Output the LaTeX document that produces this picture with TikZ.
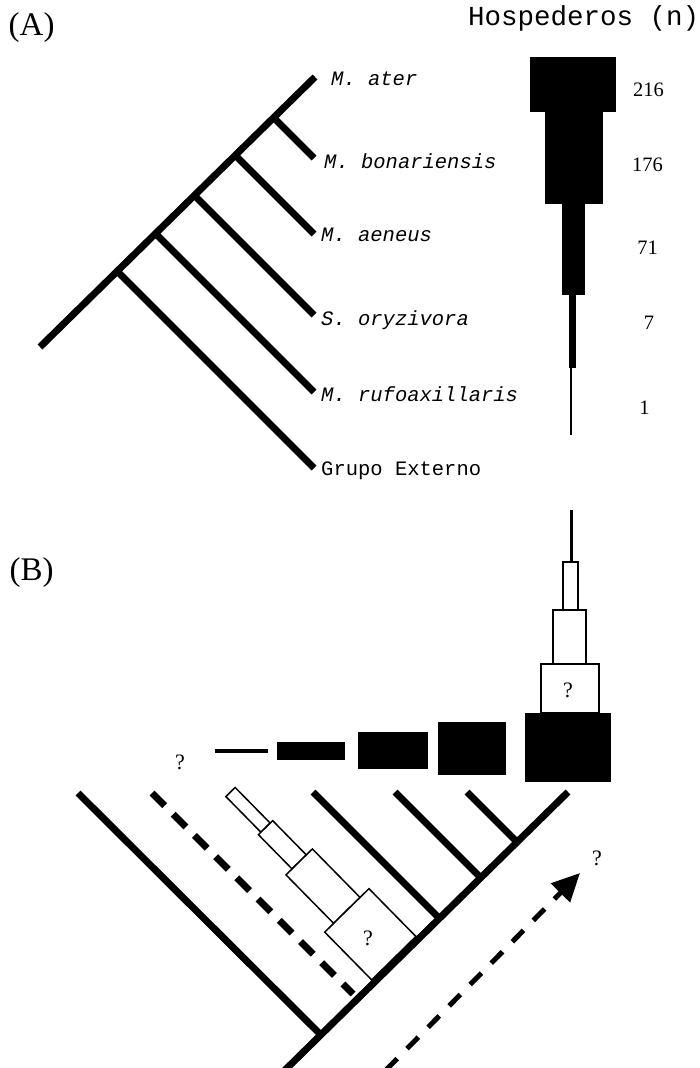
\documentclass[tikz,border=0pt]{standalone}
\usepackage{fontspec}
\setmainfont{Liberation Serif}
\newfontfamily\courfont{Liberation Mono}
\usetikzlibrary{arrows.meta}
\begin{document}
\begin{tikzpicture}[x=1pt,y=-1pt,
  branch/.style={line width=7pt,line cap=butt},
  dashbranch/.style={line width=7pt,line cap=butt,dash pattern=on 18pt off 12pt},
  taxon/.style={anchor=base west,inner sep=0pt,font=\courfont\itshape\fontsize{20.5}{24}\selectfont},
  count/.style={anchor=base,inner sep=0pt,font=\fontsize{20.5}{24}\selectfont},
  panel/.style={anchor=base west,inner sep=0pt,font=\fontsize{33}{38}\selectfont},
  qmark/.style={inner sep=0pt,font=\fontsize{22}{26}\selectfont},
  bar/.style={fill=black,draw=none},
  hbox/.style={draw=black,fill=white,line width=1.5pt},
  evo/.style={line width=5pt,line cap=butt,dash pattern=on 16pt off 14pt,-{Triangle[length=28pt,width=26pt]}},
]
\useasboundingbox (0,0) rectangle (699,1068);
\clip (0,0) rectangle (699,1068);

% ---------------- Panel A ----------------
\node[panel] (labA) at (8.5,35.7) {(A)};
\node[anchor=base west,inner sep=0pt,font=\courfont\fontsize{27.5}{32}\selectfont] (hosp) at (468,25.5) {Hospederos (n)};

\coordinate (rootA) at (40,347);
\coordinate (tA1) at (315,77);
\coordinate (nA2) at (273.6,117.6); \coordinate (tA2) at (314,158);
\coordinate (nA3) at (235.3,155.3); \coordinate (tA3) at (314,234);
\coordinate (nA4) at (194.4,195.4); \coordinate (tA4) at (314,315);
\coordinate (nA5) at (155.5,233.5); \coordinate (tA5) at (314,392);
\coordinate (nA6) at (117.3,271.3); \coordinate (tA6) at (314,468);

\draw[branch] (rootA) -- (tA1);
\foreach \i in {2,...,6} {\draw[branch] (nA\i) -- (tA\i);}

\node[taxon] (ater) at (331,85) {M. ater};
\node[taxon] (bon) at (324,168.3) {M. bonariensis};
\node[taxon] (aen) at (321,241.7) {M. aeneus};
\node[taxon] (ory) at (321,325) {S. oryzivora};
\node[taxon] (ruf) at (321,401.7) {M. rufoaxillaris};
\node[taxon,font=\courfont\fontsize{20.5}{24}\selectfont] (ext) at (321,475) {Grupo Externo};

\fill[bar] (530,57) rectangle (616,112);
\fill[bar] (545,112) rectangle (603,204);
\fill[bar] (562,204) rectangle (585,295);
\fill[bar] (569,295) rectangle (576,368);
\draw[line width=2pt] (571,368) -- (571,435);

\node[count] (c216) at (648.5,96.8) {216};
\node[count] (c176) at (647.5,171.8) {176};
\node[count] (c71) at (647.5,254.8) {71};
\node[count] (c7) at (649,329.8) {7};
\node[count] (c1) at (644.5,414.8) {1};

% ---------------- Panel B ----------------
\node[panel] (labB) at (9.5,580) {(B)};

% upright column
\draw[line width=3pt] (571,510) -- (571,562);
\draw[hbox] (563,562) rectangle (578,610);
\draw[hbox] (553,610) rectangle (586,664);
\draw[hbox] (541,664) rectangle (599,713);
\node[qmark] (qc) at (568,690) {?};
\fill[bar] (525,713) rectangle (611,782);

% row of black bars
\draw[line width=3.5pt] (215,751) -- (268,751);
\fill[bar] (277,742) rectangle (345,760);
\fill[bar] (358,732) rectangle (428,769);
\fill[bar] (438,722) rectangle (506,775);

\node[qmark] (ql) at (180,762) {?};

% tree B
\coordinate (tB1) at (568,792);
\coordinate (rootB) at (280,1075);
\coordinate (tB2) at (467,792); \coordinate (nB2) at (517,842);
\coordinate (tB3) at (395,792); \coordinate (nB3) at (480.7,877.7);
\coordinate (tB4) at (313,792); \coordinate (nB4) at (439.3,918.3);
\coordinate (tB5) at (152,793); \coordinate (nB5) at (353,994);
\coordinate (tB6) at (78,793);  \coordinate (nB6) at (320.8,1034.8);

\draw[branch] (rootB) -- (tB1);
\draw[branch] (nB2) -- (tB2);
\draw[branch] (nB3) -- (tB3);
\draw[branch] (nB4) -- (tB4);
\draw[branch] (nB6) -- (tB6);
\draw[dashbranch] (tB5) -- (nB5);

% tilted hypothetical column
\begin{scope}[shift={(230.5,792)},rotate=-45.5]
  \draw[hbox] (0,-6.5) rectangle (50,6.5);
  \draw[hbox] (50,-10) rectangle (98,10);
  \draw[hbox] (98,-18.5) rectangle (166,18.5);
  \draw[hbox] (166,-31) rectangle (233,31);
\end{scope}
\node[qmark] (qt) at (368,938) {?};

% evolutionary arrow
\coordinate (arS) at (386,1070);
\coordinate (arE) at (580,873);
\draw[evo] (arS) -- (arE);
\node[qmark] (qa) at (597,858) {?};
\end{tikzpicture}
\end{document}
